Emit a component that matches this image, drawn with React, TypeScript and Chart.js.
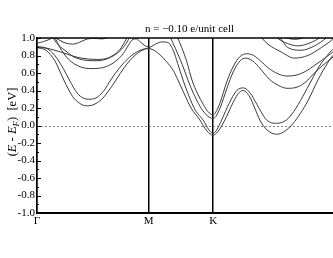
import React, { useEffect, useRef } from 'react';
import { Chart, registerables } from 'chart.js';

Chart.register(...registerables);

// k-path positions (Γ–M–K–Γ, reciprocal-lattice units) and labels
const kTicks = [0, 0.5, 0.7887, 1.366];
const kLabels = ['Γ', 'M', 'K', 'Γ'];

const titleText = 'n = −0.10 e/unit cell';

// bands: [k, E - E_F (eV)]
const bandA: [number, number][] = [
  [0, 0.89], [0.04, 0.86], [0.08, 0.74], [0.12, 0.52], [0.16, 0.33], [0.19, 0.255], [0.22, 0.225], [0.25, 0.235],
  [0.29, 0.30], [0.33, 0.43], [0.354, 0.52], [0.39, 0.66], [0.43, 0.78], [0.465, 0.85], [0.5, 0.88],
  [0.52, 0.865], [0.55, 0.81], [0.58, 0.73], [0.61, 0.63], [0.631, 0.52], [0.66, 0.36], [0.69, 0.20], [0.7296, 0.063],
  [0.76, -0.06], [0.7887, -0.11], [0.81, -0.07], [0.8415, 0.063], [0.87, 0.22], [0.90, 0.36], [0.922, 0.40],
  [0.95, 0.34], [0.975, 0.20], [0.998, 0.063], [1.03, -0.05], [1.074, -0.10], [1.11, -0.065], [1.146, 0.02],
  [1.18, 0.14], [1.213, 0.28], [1.258, 0.52], [1.303, 0.72], [1.325, 0.80], [1.366, 0.88],
];
const bandB: [number, number][] = [
  [0, 0.90], [0.04, 0.885], [0.08, 0.80], [0.12, 0.64], [0.145, 0.52], [0.18, 0.37], [0.21, 0.31], [0.23, 0.30],
  [0.26, 0.31], [0.30, 0.40], [0.33, 0.52], [0.37, 0.66], [0.41, 0.77], [0.45, 0.845], [0.48, 0.875], [0.5, 0.885],
  [0.53, 0.93], [0.56, 0.955], [0.585, 0.95], [0.61, 0.86], [0.63, 0.71], [0.654, 0.52], [0.68, 0.34], [0.71, 0.17],
  [0.744, 0.063], [0.77, -0.05], [0.7887, -0.09], [0.805, -0.05], [0.827, 0.063], [0.86, 0.25], [0.895, 0.40],
  [0.925, 0.43], [0.955, 0.37], [0.985, 0.24], [1.028, 0.065], [1.074, 0.025], [1.118, 0.065], [1.15, 0.16],
  [1.19, 0.33], [1.23, 0.52], [1.265, 0.68], [1.30, 0.80], [1.325, 0.87], [1.366, 0.90],
];
const bandC: [number, number][] = [
  [0.595, 1.02], [0.62, 0.88], [0.65, 0.70], [0.676, 0.52], [0.70, 0.37], [0.73, 0.22], [0.755, 0.13], [0.775, 0.09],
  [0.7887, 0.08], [0.80, 0.10], [0.82, 0.20], [0.85, 0.42], [0.88, 0.62], [0.91, 0.74], [0.935, 0.77], [0.965, 0.74],
  [1.0, 0.65], [1.04, 0.53], [1.08, 0.46], [1.12, 0.425], [1.16, 0.435], [1.20, 0.49], [1.25, 0.62], [1.30, 0.73],
  [1.325, 0.78], [1.366, 0.85],
];
const bandD: [number, number][] = [
  [0.627, 1.02], [0.65, 0.88], [0.672, 0.72], [0.694, 0.52], [0.72, 0.36], [0.745, 0.24], [0.765, 0.16], [0.7887, 0.12],
  [0.80, 0.15], [0.82, 0.26], [0.85, 0.50], [0.88, 0.68], [0.91, 0.79], [0.94, 0.82], [0.97, 0.80], [1.0, 0.74],
  [1.04, 0.65], [1.08, 0.59], [1.12, 0.565], [1.16, 0.575], [1.20, 0.615], [1.25, 0.70], [1.30, 0.79], [1.325, 0.84],
  [1.366, 0.90],
];
const bandE1: [number, number][] = [[0, 0.94], [0.03, 0.96], [0.06, 0.99], [0.08, 1.02], [0.1, 1.06]];
const bandW: [number, number][] = [
  [0.06, 1.04], [0.09, 0.99], [0.125, 0.945], [0.16, 0.93], [0.19, 0.95], [0.22, 0.985], [0.26, 0.995], [0.29, 0.99],
  [0.31, 1.0], [0.33, 1.03],
];
const bandC1: [number, number][] = [
  [0, 0.90], [0.04, 0.885], [0.08, 0.86], [0.13, 0.82], [0.18, 0.78], [0.23, 0.76], [0.27, 0.755], [0.30, 0.76],
  [0.34, 0.80], [0.372, 0.87], [0.40, 0.99], [0.41, 1.04],
];
const bandC2: [number, number][] = [
  [0.065, 1.04], [0.075, 0.99], [0.10, 0.91], [0.13, 0.85], [0.16, 0.79], [0.19, 0.76], [0.22, 0.745], [0.255, 0.74],
  [0.29, 0.745], [0.33, 0.78], [0.37, 0.85], [0.40, 0.94], [0.42, 1.03],
];
const bandF: [number, number][] = [
  [0.07, 1.04], [0.085, 0.98], [0.11, 0.86], [0.14, 0.76], [0.17, 0.70], [0.20, 0.665], [0.237, 0.65], [0.28, 0.655],
  [0.312, 0.675], [0.35, 0.73], [0.386, 0.82], [0.41, 0.92], [0.43, 0.985], [0.445, 0.99], [0.465, 0.95],
  [0.485, 0.91], [0.5, 0.895],
];
const bandT0: [number, number][] = [[1.09, 1.04], [1.12, 1.0], [1.155, 0.985], [1.19, 1.0], [1.22, 1.04]];
const bandT1: [number, number][] = [
  [1.055, 1.04], [1.075, 1.0], [1.109, 0.95], [1.168, 0.91], [1.228, 0.95], [1.265, 1.0], [1.285, 1.04],
];
const bandT2: [number, number][] = [
  [1.08, 1.04], [1.095, 0.98], [1.124, 0.89], [1.183, 0.86], [1.243, 0.91], [1.295, 1.0], [1.31, 1.04],
];
const bandT3: [number, number][] = [
  [0.995, 1.04], [1.007, 1.0], [1.034, 0.93], [1.094, 0.84], [1.153, 0.77], [1.213, 0.80], [1.273, 0.89],
  [1.325, 0.99], [1.34, 1.04],
];

const bands = [bandA, bandB, bandC, bandD, bandE1, bandW, bandC1, bandC2, bandF, bandT0, bandT1, bandT2, bandT3];

const FAM = '"Liberation Serif", "Times New Roman", serif';

const decorPlugin = {
  id: 'decor',
  beforeDatasetsDraw(chart: any) {
    const { ctx, chartArea: a, scales } = chart;
    const y0 = Math.round(scales.y.getPixelForValue(0)) + 0.5;
    ctx.save();
    ctx.strokeStyle = '#808080';
    ctx.lineWidth = 1;
    ctx.setLineDash([2, 2]);
    ctx.beginPath();
    ctx.moveTo(a.left, y0);
    ctx.lineTo(a.right, y0);
    ctx.stroke();
    ctx.restore();
  },
  afterDraw(chart: any) {
    const { ctx, chartArea: a, scales } = chart;
    ctx.save();
    // top frame
    ctx.strokeStyle = '#000';
    ctx.lineWidth = 1.5;
    ctx.beginPath();
    ctx.moveTo(a.left, a.top);
    ctx.lineTo(a.right, a.top);
    ctx.stroke();
    // inward ticks on left axis
    ctx.lineWidth = 1;
    for (let i = -10; i <= 10; i++) {
      const py = Math.round(scales.y.getPixelForValue(i / 10)) + 0.5;
      const len = i % 2 === 0 ? 4 : 2;
      ctx.beginPath();
      ctx.moveTo(a.left, py);
      ctx.lineTo(a.left + len, py);
      ctx.stroke();
    }
    // y-axis title with subscript
    ctx.translate(15.5, 122);
    ctx.rotate(-Math.PI / 2);
    ctx.fillStyle = '#000';
    ctx.textBaseline = 'alphabetic';
    const segs = [
      { t: '(', f: `12.5px ${FAM}`, dy: 0 },
      { t: 'E', f: `italic 12.5px ${FAM}`, dy: 0 },
      { t: ' - ', f: `12.5px ${FAM}`, dy: 0 },
      { t: 'E', f: `italic 12.5px ${FAM}`, dy: 0 },
      { t: 'F', f: `italic 9px ${FAM}`, dy: 3 },
      { t: ')  [eV]', f: `12.5px ${FAM}`, dy: 0 },
    ];
    let total = 0;
    const widths = segs.map((s) => {
      ctx.font = s.f;
      const w = ctx.measureText(s.t).width;
      total += w;
      return w;
    });
    let x = -total / 2;
    segs.forEach((s, i) => {
      ctx.font = s.f;
      ctx.fillText(s.t, x, s.dy);
      x += widths[i];
    });
    ctx.restore();
  },
};

export default function App() {
  const ref = useRef<HTMLCanvasElement | null>(null);
  useEffect(() => {
    if (!ref.current) return;
    const chart = new Chart(ref.current, {
      type: 'line',
      data: {
        datasets: bands.map((b) => ({
          data: b.map(([x, y]) => ({ x, y })),
          borderColor: '#3a3a3a',
          borderWidth: 1,
          pointRadius: 0,
          fill: false,
          cubicInterpolationMode: 'monotone' as const,
        })),
      },
      options: {
        responsive: false,
        animation: false,
        devicePixelRatio: 1,
        layout: { padding: { left: 0, right: 37, top: 0, bottom: 0 } },
        plugins: {
          legend: { display: false },
          tooltip: { enabled: false },
          title: {
            display: true,
            text: titleText,
            fullSize: false,
            color: '#000',
            font: { family: FAM, size: 11, weight: 'normal' },
            padding: { top: 23, bottom: 1.8 },
          },
        },
        scales: {
          x: {
            type: 'linear',
            min: kTicks[0],
            max: kTicks[kTicks.length - 1],
            afterBuildTicks: (s: any) => {
              s.ticks = kTicks.map((v) => ({ value: v }));
            },
            afterFit: (s: any) => {
              s.height = 45;
            },
            ticks: {
              autoSkip: false,
              maxRotation: 0,
              color: '#000',
              font: { family: FAM, size: 11 },
              padding: 2,
              callback: (_v: any, i: number) => kLabels[i],
            },
            grid: { color: '#000', lineWidth: 1.5, drawTicks: false },
            border: { display: true, color: '#000', width: 2 },
          },
          y: {
            min: -1,
            max: 1,
            afterFit: (s: any) => {
              s.width = 37;
            },
            ticks: {
              stepSize: 0.2,
              color: '#000',
              font: { family: FAM, size: 11 },
              padding: 2,
              callback: (v: any) => (Math.abs(Number(v)) < 1e-9 ? '0.0' : Number(v).toFixed(1)),
            },
            grid: { display: false, drawTicks: false },
            border: { display: true, color: '#000', width: 1.5 },
          },
        },
      },
      plugins: [decorPlugin],
    });
    return () => chart.destroy();
  }, []);
  return (
    <div style={{ position: 'fixed', left: 0, top: 0, width: 333, height: 258, overflow: 'hidden', background: '#fff' }}>
      <canvas ref={ref} width={379} height={258} style={{ display: 'block' }} />
    </div>
  );
}
